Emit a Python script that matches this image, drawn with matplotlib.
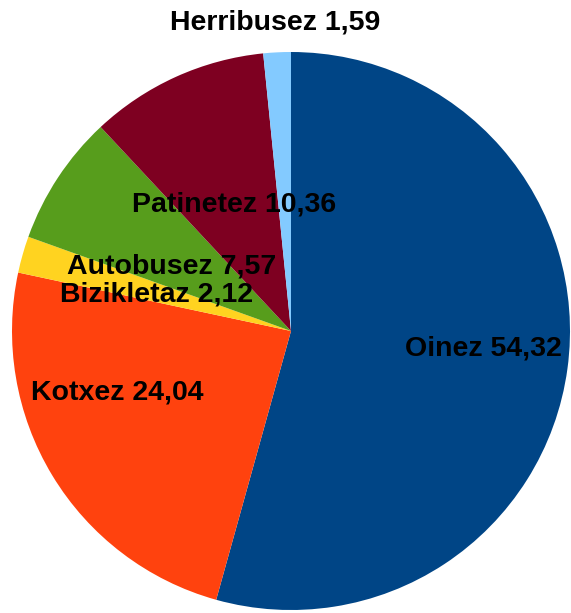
import matplotlib
matplotlib.use('Agg')
import matplotlib.pyplot as plt

# garraiobideak eta ehunekoak
labels = ['Oinez', 'Kotxez', 'Bizikletaz', 'Autobusez', 'Patinetez', 'Herribusez']
values = [54.32, 24.04, 2.12, 7.57, 10.36, 1.59]
colors = ['#004586', '#ff420e', '#ffd320', '#579d1c', '#7e0021', '#83caff']

# etiketen kokapena (pixeletan, goitik behera)
label_pos = [(483, 349), (117, 392), (157, 295), (172, 266), (234, 205), (275, 22)]

W, H = 571, 613
fig = plt.figure(figsize=(W / 100, H / 100), dpi=100)
ax = fig.add_axes([0, 0, 1, 1])

ax.pie(values, colors=colors, startangle=90, counterclock=False,
       center=(291, H - 331), radius=279, frame=True,
       wedgeprops={'linewidth': 0})
ax.set_xlim(0, W)
ax.set_ylim(0, H)
ax.set_aspect('equal')
ax.axis('off')

for lab, val, (px, py) in zip(labels, values, label_pos):
    txt = lab + ' ' + f'{val:.2f}'.replace('.', ',')
    ax.text(px, H - py, txt, ha='center', va='center', fontsize=20.5,
            fontweight='bold', family='Liberation Sans', color='black')

fig.savefig('out.png', dpi=100)
